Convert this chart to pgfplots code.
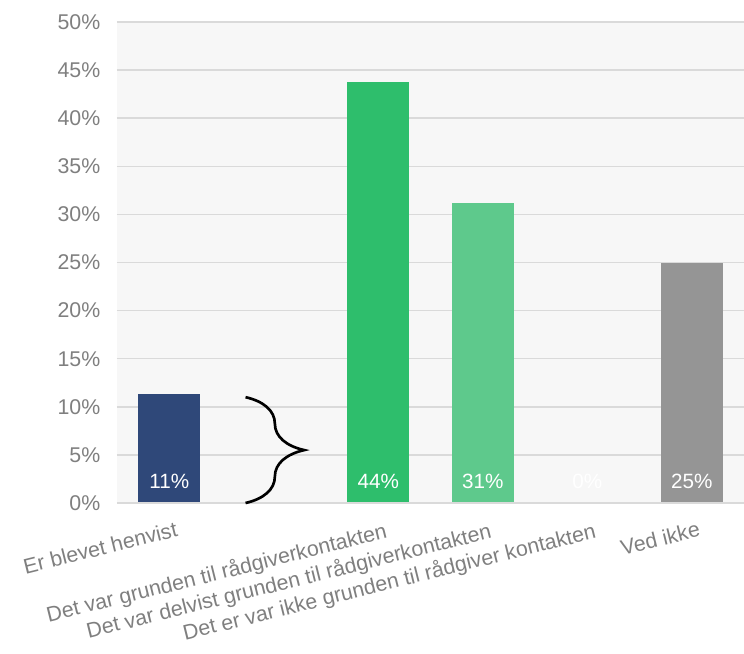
\documentclass[border=0pt]{standalone}
\usepackage{fontspec}
\setmainfont{Liberation Sans}
\usepackage{pgfplots}
\pgfplotsset{compat=1.18}
\usetikzlibrary{decorations.pathreplacing}
\definecolor{navy}{HTML}{2F4879}
\definecolor{green1}{HTML}{2EBE6C}
\definecolor{green2}{HTML}{5EC98C}
\definecolor{grayb}{HTML}{959595}
\definecolor{txt}{HTML}{7F7F7F}
\definecolor{gridc}{HTML}{DADADA}
\definecolor{bg}{HTML}{F7F7F7}
\begin{document}
\begin{tikzpicture}
\begin{axis}[
  scale only axis,
  width=470.25pt, height=360.75pt,
  xmin=-0.5, xmax=5.5, ymin=0, ymax=50,
  axis background/.style={fill=bg},
  axis line style={draw=none},
  major tick length=0pt,
  ytick={0,5,...,50},
  ymajorgrids, xmajorgrids=false, grid style={color=gridc, line width=1.1pt},
  /pgf/number format/assume math mode=true,
  yticklabel={\pgfmathprintnumber{\tick}\%},
  yticklabel style={font=\fontsize{16}{18}\selectfont, text=txt, xshift=-9pt},
  xtick={0,1,2,3,4,5},
  xticklabels={Er blevet henvist,,Det var grunden til rådgiverkontakten,Det var delvist grunden til rådgiverkontakten,Det er var ikke grunden til rådgiver kontakten,Ved ikke},
  xticklabel style={font=\fontsize{16}{18}\selectfont, text=txt, rotate=14, anchor=north east, inner sep=1pt, yshift=-13pt, xshift=2pt},
  clip=false,
]
\addplot[ybar, bar width=46.5pt, bar shift=0pt, fill=navy, draw=none] coordinates {(0,11.3)};
\addplot[ybar, bar width=46.5pt, bar shift=0pt, fill=green1, draw=none] coordinates {(2,43.8)};
\addplot[ybar, bar width=46.5pt, bar shift=0pt, fill=green2, draw=none] coordinates {(3,31.2)};
\addplot[ybar, bar width=46.5pt, bar shift=0pt, fill=grayb, draw=none] coordinates {(4,0)};
\addplot[ybar, bar width=46.5pt, bar shift=0pt, fill=grayb, draw=none] coordinates {(5,25.0)};
\addplot[draw=none, mark=none, nodes near coords, point meta=explicit symbolic,
  nodes near coords style={white, anchor=center, yshift=16.5pt, font=\fontsize{15.5}{18}\selectfont}]
  coordinates {(0,0)[11\%] (2,0)[44\%] (3,0)[31\%] (4,0)[0\%] (5,0)[25\%]};
\draw[gridc, line width=1.6pt] (axis cs:-0.5,0) -- (axis cs:5.5,0);
\draw[black, line width=2pt, decorate, decoration={brace, amplitude=44pt, aspect=0.5}]
  (axis cs:0.73,11.0) -- (axis cs:0.73,0);
\end{axis}
\pgfresetboundingbox
\path[use as bounding box] ([xshift=-87.75pt,yshift=-112.5pt]current axis.south west) rectangle ([yshift=16.5pt]current axis.north east);
\end{tikzpicture}
\end{document}
